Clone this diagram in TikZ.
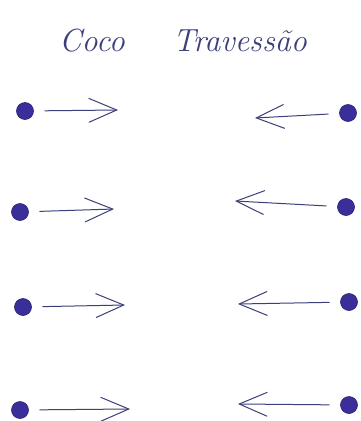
\documentclass[tikz,border=0pt]{standalone}
\usetikzlibrary{arrows.meta}
\definecolor{ink}{HTML}{3B3F7A}
\definecolor{dotblue}{HTML}{3A2F9A}
\begin{document}
\begin{tikzpicture}[x=1pt,y=-1pt,
  dot/.style={circle,fill=dotblue,draw=dotblue!70!black,line width=0.6pt,minimum size=17pt,inner sep=0pt},
  arr/.style={draw=ink,line width=1pt,line cap=round,shorten <=11pt,
    -{Straight Barb[length=28pt,width=24pt,line width=1pt]}},
  title/.style={text=ink,font=\fontsize{32}{36}\selectfont\itshape}]
\useasboundingbox[fill=white] (0,0) rectangle (361,421);
\node[title] (t) at (183,41) {Coco\hspace{48pt}Travessão};
% row 1
\node[dot] (l1) at (25,111) {};
\node[dot] (r1) at (348,113) {};
\coordinate (lt1) at (118,110);
\coordinate (rt1) at (255,118);
% row 2
\node[dot] (l2) at (20,212) {};
\node[dot] (r2) at (346,207) {};
\coordinate (lt2) at (114,209);
\coordinate (rt2) at (235,201);
% row 3
\node[dot] (l3) at (23,307) {};
\node[dot] (r3) at (349,302) {};
\coordinate (lt3) at (125,305);
\coordinate (rt3) at (238,304);
% row 4
\node[dot] (l4) at (20,410) {};
\node[dot] (r4) at (349,405) {};
\coordinate (lt4) at (130,409);
\coordinate (rt4) at (238,404);
\foreach \i in {1,2,3,4}{
  \draw[arr] (l\i) -- (lt\i);
  \draw[arr] (r\i) -- (rt\i);
}
\end{tikzpicture}
\end{document}
